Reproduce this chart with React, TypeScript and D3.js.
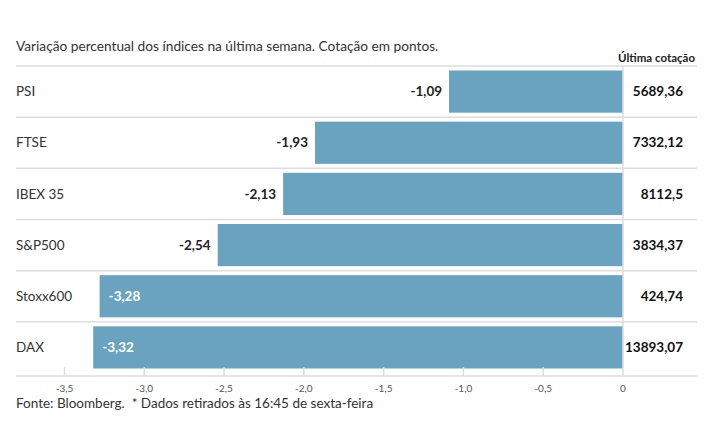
import React from "react";
import * as d3 from "d3";

const categories = ["PSI", "FTSE", "IBEX 35", "S&P500", "Stoxx600", "DAX"];
const changes = [-1.09, -1.93, -2.13, -2.54, -3.28, -3.32];
const quotes = ["5689,36", "7332,12", "8112,5", "3834,37", "424,74", "13893,07"];
const ticks = [-3.5, -3.0, -2.5, -2.0, -1.5, -1.0, -0.5, 0];

const W = 715, H = 445;
const FONT = "Lato, 'Open Sans', sans-serif";
const fix = (s: string) => s.replace("\u2212", "-").replace(".", ",");
const fmt = (v: number) => fix(d3.format(".2f")(v));
const fmtTick = (v: number) => (v === 0 ? "0" : fix(d3.format(".1f")(v)));

export default function App() {
  const x = d3.scaleLinear().domain([-3.5, 0]).range([64.5, 623]);
  const y = d3.scaleBand<string>().domain(categories).range([66, 373]).paddingInner(0).paddingOuter(0);
  const bandPad = 4.5;
  const inside = (v: number) => v < -3;
  return (
    <svg width={W} height={H} style={{ position: "absolute", left: 0, top: 0, background: "#fff" }} fontFamily={FONT}>
      <text x={16} y={51} fontSize={13.7} fill="#333">
        Variação percentual dos índices na última semana. Cotação em pontos.
      </text>
      <text x={695} y={62} fontSize={11.5} fontWeight="bold" fill="#222" textAnchor="end">
        Última cotação
      </text>
      {categories.map((c, i) => {
        const y0 = y(c)!;
        const v = changes[i];
        const bx = x(v);
        const bw = x(0) - bx;
        const cy = y0 + y.bandwidth() / 2;
        return (
          <g key={c}>
            <line x1={16} x2={697} y1={y0} y2={y0} stroke="#ddd" strokeWidth={1.5} />
            <text x={16} y={cy} dy="0.35em" fontSize={13.5} fill="#333">{c}</text>
            <rect x={bx} y={y0 + bandPad} width={bw} height={y.bandwidth() - bandPad * 2} fill="#6aa3bf" />
            {inside(v) ? (
              <text x={bx + 9} y={cy} dy="0.35em" fontSize={13.5} fontWeight="bold" fill="#fff">{fmt(v)}</text>
            ) : (
              <text x={bx - 7} y={cy} dy="0.35em" fontSize={13.5} fontWeight="bold" fill="#222" textAnchor="end">{fmt(v)}</text>
            )}
            <text x={683} y={cy} dy="0.35em" fontSize={13.5} fontWeight="bold" fill="#111" textAnchor="end">{quotes[i]}</text>
          </g>
        );
      })}
      <line x1={x(0)} x2={x(0)} y1={66} y2={376} stroke="#ddd" strokeWidth={1.5} />
      <line x1={16} x2={697} y1={376} y2={376} stroke="#ddd" strokeWidth={1.5} />
      {ticks.map((t) => (
        <g key={t}>
          {t !== 0 && <line x1={x(t)} x2={x(t)} y1={367} y2={376} stroke="#ddd" strokeWidth={1.5} />}
          <text x={x(t)} y={388} dy="0.35em" fontSize={10} fill="#555" textAnchor="middle">{fmtTick(t)}</text>
        </g>
      ))}
      <text x={16} y={408} fontSize={13.5} fill="#333" style={{ whiteSpace: "pre" }}>
        {"Fonte: Bloomberg.  * Dados retirados às 16:45 de sexta-feira"}
      </text>
    </svg>
  );
}
